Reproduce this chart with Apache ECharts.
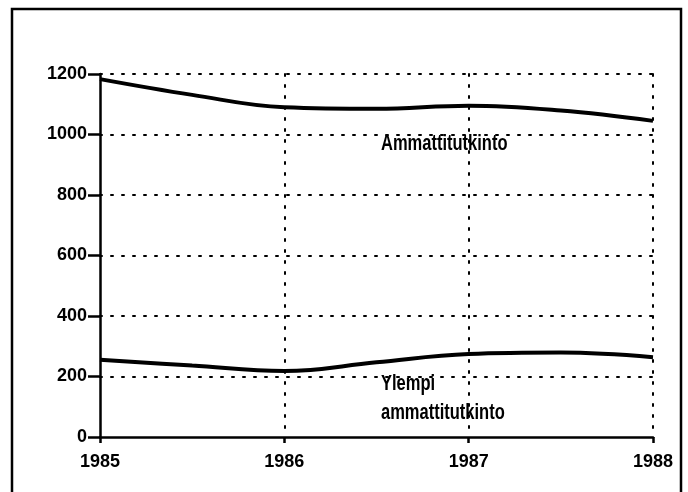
<!DOCTYPE html>
<html><head><meta charset="utf-8">
<script src="https://cdn.jsdelivr.net/npm/echarts@6/dist/echarts.min.js"></script>
<style>html,body{margin:0;padding:0;background:#fff}#c{width:688px;height:492px}</style>
</head><body><div id="c"></div>
<script>
const years = [1985, 1985.5, 1986, 1986.5, 1987, 1987.5, 1988];
const ammattitutkinto = [1183, 1131, 1090, 1085, 1095, 1079, 1045];
const ylempi = [255, 236, 218, 247, 274, 279, 264];
const xTicks = [1985, 1986, 1987, 1988];
const yTicks = [0, 200, 400, 600, 800, 1000, 1200];
const labelUpper = 'Ammattitutkinto';
const labelLower = 'Ylempi\nammattitutkinto';

const font = '"Liberation Sans", Arial, sans-serif';
const chart = echarts.init(document.getElementById('c'));
chart.setOption({
  animation: false,
  backgroundColor: '#fff',
  grid: { left: 100, right: 35, top: 74, bottom: 55 },
  xAxis: {
    type: 'value', min: xTicks[0], max: xTicks[xTicks.length - 1], interval: 1,
    axisLine: { lineStyle: { color: '#000', width: 2.5 } },
    axisTick: { show: true, length: 6, lineStyle: { color: '#000', width: 2.5 } },
    axisLabel: { color: '#000', fontFamily: font, fontWeight: 'bold', fontSize: 18, margin: 16,
      formatter: v => String(v) },
    splitLine: { show: true, showMinLine: false, lineStyle: { color: '#000', width: 2, type: [2, 9], cap: 'round' } }
  },
  yAxis: {
    type: 'value', min: yTicks[0], max: yTicks[yTicks.length - 1], interval: 200,
    axisLine: { show: true, lineStyle: { color: '#000', width: 2.5 } },
    axisTick: { show: true, length: 12, lineStyle: { color: '#000', width: 2.5 } },
    axisLabel: { color: '#000', fontFamily: font, fontWeight: 'bold', fontSize: 18, margin: 13,
      formatter: v => String(v) },
    splitLine: { show: true, showMinLine: false, lineStyle: { color: '#000', width: 2, type: [2, 9], cap: 'round' } }
  },
  series: [
    { type: 'line', data: years.map((y, i) => [y, ammattitutkinto[i]]), smooth: 0.4, symbol: 'none',
      lineStyle: { color: '#000', width: 4 } },
    { type: 'line', data: years.map((y, i) => [y, ylempi[i]]), smooth: 0.4, symbol: 'none',
      lineStyle: { color: '#000', width: 4 } }
  ],
  graphic: [
    { type: 'rect', shape: { x: 12, y: 9, width: 669, height: 520 }, style: { fill: 'none', stroke: '#000', lineWidth: 2.5 } },
    { type: 'text', x: 381, y: 133, scaleX: 0.75, style: { text: labelUpper, fill: '#000', font: 'bold 22px ' + font } },
    { type: 'text', x: 381, y: 369, scaleX: 0.75, style: { text: labelLower, fill: '#000', font: 'bold 22px ' + font, lineHeight: 29 } }
  ]
});
</script></body></html>
